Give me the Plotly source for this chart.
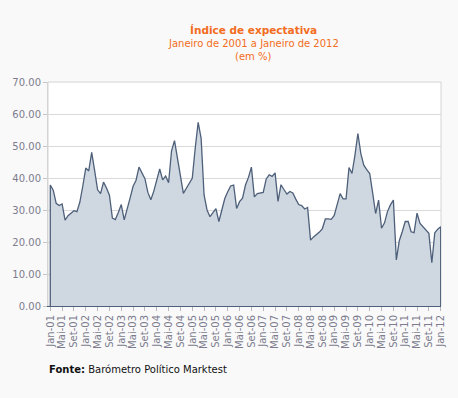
import plotly.graph_objects as go

months_pt = ["Jan", "Fev", "Mar", "Abr", "Mai", "Jun", "Jul", "Ago", "Set", "Out", "Nov", "Dez"]
years = list(range(2001, 2013))

values = [
    37.8, 36.2, 32.1, 31.4, 31.9, 26.8, 28.2, 29.0, 29.8, 29.5, 32.5, 37.5,   # 2001
    43.1, 42.2, 48.0, 42.3, 36.3, 35.1, 38.7, 36.9, 34.6, 27.5, 27.0, 29.2,   # 2002
    31.7, 26.9, 30.0, 33.8, 37.4, 39.3, 43.4, 41.7, 39.8, 35.5, 33.2, 35.9,   # 2003
    39.4, 42.8, 39.4, 40.6, 38.5, 48.5, 51.7, 46.2, 40.5, 35.2, 36.8, 38.3,   # 2004
    39.9, 49.3, 57.4, 52.4, 34.7, 30.0, 27.9, 29.2, 30.4, 26.4, 30.0, 33.6,   # 2005
    35.7, 37.5, 37.8, 30.5, 32.6, 33.7, 37.8, 40.2, 43.4, 34.1, 35.1, 35.3,   # 2006
    35.5, 39.7, 41.0, 40.5, 41.6, 32.7, 37.9, 36.4, 35.0, 35.8, 35.3, 33.4,   # 2007
    31.7, 31.4, 30.3, 30.8, 20.6, 21.6, 22.3, 23.1, 24.2, 27.2, 27.2, 27.1,   # 2008
    28.3, 32.0, 35.1, 33.5, 33.5, 43.3, 41.4, 47.1, 53.9, 47.6, 44.0, 42.6,   # 2009
    41.4, 35.3, 28.9, 33.1, 24.3, 26.0, 29.5, 31.6, 33.1, 14.4, 20.4, 23.2,   # 2010
    26.4, 26.4, 23.2, 22.9, 29.0, 25.8, 24.8, 23.8, 22.7, 13.5, 22.9, 24.0,   # 2011
    24.8,                                                                     # 2012
]

categories = [f"{months_pt[k % 12]}-{str(years[k // 12])[2:]}" for k in range(len(values))]
x_idx = list(range(len(values)))
tick_idx = x_idx[::4]
tick_text = [categories[k] for k in tick_idx]
y_ticks = [0, 10, 20, 30, 40, 50, 60, 70]

title_main = "Índice de expectativa"
title_sub1 = "Janeiro de 2001 a Janeiro de 2012"
title_sub2 = "(em %)"
source_bold = "Fonte:"
source_text = "Barómetro Político Marktest"

LINE = "#4d5f79"
FILL = "#cfd7e1"
ORANGE = "#f26d21"
TICKTXT = "#7c7c8e"
BG = "#f9f9f9"
FONT = "DejaVu Sans, Verdana, sans-serif"

# closed outline derived from data (drop to the zero baseline at both ends)
xc = [x_idx[0]] + x_idx + [x_idx[-1]]
yc = [0] + values + [0]

fig = go.Figure()
fig.add_trace(go.Scatter(
    x=xc, y=yc, mode="lines", fill="tozeroy",
    fillcolor=FILL, line=dict(color=LINE, width=1.3),
    hovertext=[""] + categories + [""], showlegend=False,
))

fig.update_layout(
    width=458, height=398,
    margin=dict(l=45, r=16, t=82, b=92),
    paper_bgcolor=BG, plot_bgcolor="#ffffff",
    font=dict(family=FONT, size=10, color=TICKTXT),
    showlegend=False,
    shapes=[dict(type="rect", xref="paper", yref="paper", x0=0, x1=1, y0=0, y1=1,
                 line=dict(color="#d4d4d4", width=1), layer="below")],
    annotations=[
        dict(text=f"<b>{title_main}</b>", xref="paper", yref="paper", x=0.522, y=1.232,
             showarrow=False, font=dict(family=FONT, size=10.5, color=ORANGE),
             xanchor="center", yanchor="middle"),
        dict(text=title_sub1, xref="paper", yref="paper", x=0.522, y=1.174,
             showarrow=False, font=dict(family=FONT, size=10, color=ORANGE),
             xanchor="center", yanchor="middle"),
        dict(text=title_sub2, xref="paper", yref="paper", x=0.522, y=1.116,
             showarrow=False, font=dict(family=FONT, size=10, color=ORANGE),
             xanchor="center", yanchor="middle"),
        dict(text=f"<b>{source_bold}</b> {source_text}", xref="paper", yref="paper",
             x=-0.002, y=-0.282, showarrow=False,
             font=dict(family=FONT, size=10, color="#111111"),
             xanchor="left", yanchor="middle"),
    ],
)

fig.update_xaxes(
    range=[-0.77, 132.1], tickmode="array", tickvals=tick_idx, ticktext=tick_text,
    tickangle=-90, ticks="outside", ticklen=4, tickcolor="#b8b8b8",
    showgrid=False, zeroline=False, showline=True, linecolor=LINE, linewidth=1,
    tickfont=dict(family=FONT, size=10, color=TICKTXT),
)
fig.update_yaxes(
    range=[0, 70], tickmode="array", tickvals=y_ticks, tickformat=".2f",
    ticks="outside", ticklen=4, tickcolor="#c4c4c4",
    showgrid=True, gridcolor="#dadada", gridwidth=1, zeroline=False,
    showline=True, linecolor="#d4d4d4",
    tickfont=dict(family=FONT, size=10, color=TICKTXT),
)

fig.write_html(
    "out.html",
    config={"displayModeBar": False},
    post_script="document.body.style.margin='0';document.body.style.background='" + BG + "';",
)
